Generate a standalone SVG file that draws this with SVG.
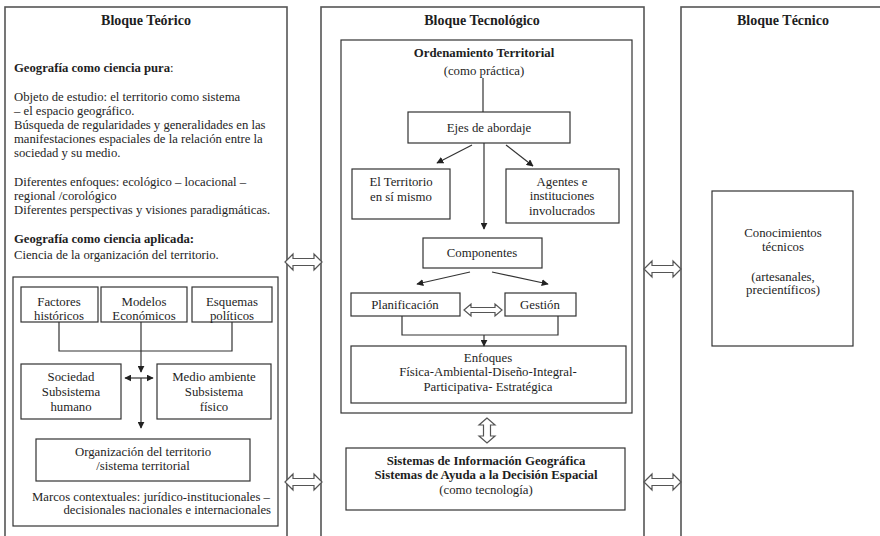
<svg xmlns="http://www.w3.org/2000/svg" width="880" height="536" viewBox="0 0 880 536">
<defs>
<marker id="ah" viewBox="0 0 10 10" refX="9" refY="5" markerWidth="7" markerHeight="7" orient="auto-start-reverse" markerUnits="userSpaceOnUse"><path d="M0,0 L10,5 L0,10 z" fill="#222"/></marker>
<style>
text{font-family:"Liberation Serif","DejaVu Serif",serif;font-size:12.8px;fill:#1e1e1e}
.l{font-size:12.7px}
.b{font-weight:bold}
.t{font-weight:bold;font-size:14px}
.c{text-anchor:middle}
.blk{fill:#fff;stroke:#555;stroke-width:1.6}
.box{fill:#fff;stroke:#333;stroke-width:1.2}
.ln{fill:none;stroke:#333;stroke-width:1.2}
.arr{fill:none;stroke:#333;stroke-width:1.2;marker-end:url(#ah)}
.arr2{fill:none;stroke:#333;stroke-width:1.2;marker-end:url(#ah);marker-start:url(#ah)}
.hol{fill:#fff;stroke:#555;stroke-width:1.2}
</style>
</defs>
<rect width="880" height="536" fill="#fff"/>

<g id="bloque-teorico">
<rect class="blk" x="5" y="7" width="282" height="540"/>
<text class="t c" x="146" y="25">Bloque Teórico</text>
<text class="l b" x="14" y="72">Geografía como ciencia pura<tspan font-weight="normal">:</tspan></text>
<text class="l" x="14" y="101">Objeto de estudio: el territorio como sistema</text>
<text class="l" x="14" y="115"> – el espacio geográfico.</text>
<text class="l" x="14" y="129">Búsqueda de regularidades y generalidades en las</text>
<text class="l" x="14" y="143">manifestaciones espaciales de la relación entre la</text>
<text class="l" x="14" y="157">sociedad y su medio.</text>
<text class="l" x="14" y="186">Diferentes enfoques: ecológico – locacional –</text>
<text class="l" x="14" y="200">regional /corológico</text>
<text class="l" x="14" y="214">Diferentes perspectivas y visiones paradigmáticas.</text>
<text class="l b" x="14" y="243">Geografía como ciencia aplicada:</text>
<text class="l" x="14" y="259">Ciencia de la organización del territorio.</text>
</g>

<g id="marco-organizacion">
<rect class="box" x="13" y="277" width="265" height="249"/>
<text class="l c" x="151" y="501">Marcos contextuales: jurídico-institucionales –</text>
<text class="l" x="271" y="514" text-anchor="end">decisionales  nacionales e internacionales</text>
</g>
<g id="factores">
<rect class="box" x="21" y="287" width="77" height="35"/>
<text class="c" x="59" y="306">Factores</text>
<text class="c" x="59" y="320">históricos</text>
</g>
<g id="modelos">
<rect class="box" x="101" y="287" width="86" height="35"/>
<text class="c" x="144" y="306">Modelos</text>
<text class="c" x="144" y="320">Económicos</text>
</g>
<g id="esquemas">
<rect class="box" x="192" y="287" width="80" height="35"/>
<text class="c" x="232" y="306">Esquemas</text>
<text class="c" x="232" y="320">políticos</text>
</g>
<g id="sociedad">
<rect class="box" x="21" y="364" width="100" height="55"/>
<text class="c" x="71" y="381">Sociedad</text>
<text class="c" x="71" y="396">Subsistema</text>
<text class="c" x="71" y="411">humano</text>
</g>
<g id="medio">
<rect class="box" x="157" y="364" width="114" height="55"/>
<text class="c" x="214" y="381">Medio ambiente</text>
<text class="c" x="214" y="396">Subsistema</text>
<text class="c" x="214" y="411">físico</text>
</g>
<g id="organizacion">
<rect class="box" x="36" y="439" width="214" height="42"/>
<text class="c" x="143" y="456">Organización del territorio</text>
<text class="c" x="143" y="470">/sistema territorial</text>
</g>

<g id="bloque-tecnologico">
<rect class="blk" x="321" y="7" width="323" height="540"/>
<text class="t c" x="482" y="25">Bloque Tecnológico</text>
</g>
<g id="ordenamiento">
<rect class="box" x="341" y="40" width="291" height="373"/>
<text class="b c" x="484" y="57">Ordenamiento Territorial</text>
<text class="c" x="484" y="75">(como práctica)</text>
</g>
<g id="ejes">
<rect class="box" x="408" y="112" width="162" height="31"/>
<text class="c" x="489" y="132">Ejes de abordaje</text>
</g>
<g id="territorio">
<rect class="box" x="352" y="169" width="98" height="50"/>
<text class="c" x="401" y="186">El Territorio</text>
<text class="c" x="401" y="201">en sí mismo</text>
</g>
<g id="agentes">
<rect class="box" x="506" y="169" width="113" height="54"/>
<text class="c" x="562" y="186">Agentes e</text>
<text class="c" x="562" y="200">instituciones</text>
<text class="c" x="562" y="215">involucrados</text>
</g>
<g id="componentes">
<rect class="box" x="423" y="238" width="119" height="30"/>
<text class="c" x="482" y="257">Componentes</text>
</g>
<g id="planificacion">
<rect class="box" x="351" y="293" width="109" height="23"/>
<text class="c" x="405" y="309">Planificación</text>
</g>
<g id="gestion">
<rect class="box" x="505" y="293" width="71" height="23"/>
<text class="c" x="540" y="309">Gestión</text>
</g>
<g id="enfoques">
<rect class="box" x="351" y="346" width="275" height="57"/>
<text class="c" x="488" y="362">Enfoques</text>
<text class="c" x="488" y="376">Física-Ambiental-Diseño-Integral-</text>
<text class="c" x="488" y="391">Participativa- Estratégica</text>
</g>
<g id="sig">
<rect class="box" x="346" y="448" width="279" height="62"/>
<text class="b c" x="486" y="465">Sistemas de Información Geográfica</text>
<text class="b c" x="486" y="479">Sistemas de Ayuda a la Decisión Espacial</text>
<text class="c" x="486" y="494">(como tecnología)</text>
</g>

<g id="bloque-tecnico">
<rect class="blk" x="681" y="7" width="200" height="540"/>
<text class="t c" x="783" y="25">Bloque Técnico</text>
</g>
<g id="conocimientos">
<rect class="box" x="712" y="191" width="141" height="155"/>
<text class="c" x="783" y="237">Conocimientos</text>
<text class="c" x="783" y="251">técnicos</text>
<text class="c" x="783" y="281">(artesanales,</text>
<text class="c" x="783" y="294">precientíficos)</text>
</g>

<g id="connectors">
<path class="ln" d="M59,322 V351 H232 V322"/>
<path class="arr" d="M141,322 V372"/>
<path class="arr" d="M141,378 V428"/>
<path class="arr2" d="M125,378 H153"/>
<path class="ln" d="M483,78 V112"/>
<path class="arr" d="M472,145 L437,163"/>
<path class="arr" d="M506,145 L533,166"/>
<path class="arr" d="M484,143 V229"/>
<path class="arr" d="M470,272 L417,284"/>
<path class="arr" d="M492,272 L548,284"/>
<path class="ln" d="M402,316 V335 H558 V316"/>
<path class="arr" d="M484,335 V346"/>
<polygon class="hol" points="464,310 471,304 471,307.5 495,307.5 495,304 502,310 495,316 495,312.5 471,312.5 471,316"/>
<polygon class="hol" points="487,418 479,425 483.5,425 483.5,436 479,436 487,443 495,436 490.5,436 490.5,425 495,425"/>
<polygon class="hol" points="285,262 293,254 293,258.5 314,258.5 314,254 322,262 314,270 314,265.5 293,265.5 293,270"/>
<polygon class="hol" points="285,482 293,474 293,478.5 314,478.5 314,474 322,482 314,490 314,485.5 293,485.5 293,490"/>
<polygon class="hol" points="644,269 652,261 652,265.5 673,265.5 673,261 681,269 673,277 673,272.5 652,272.5 652,277"/>
<polygon class="hol" points="644,482 652,474 652,478.5 673,478.5 673,474 681,482 673,490 673,485.5 652,485.5 652,490"/>
</g>
</svg>
